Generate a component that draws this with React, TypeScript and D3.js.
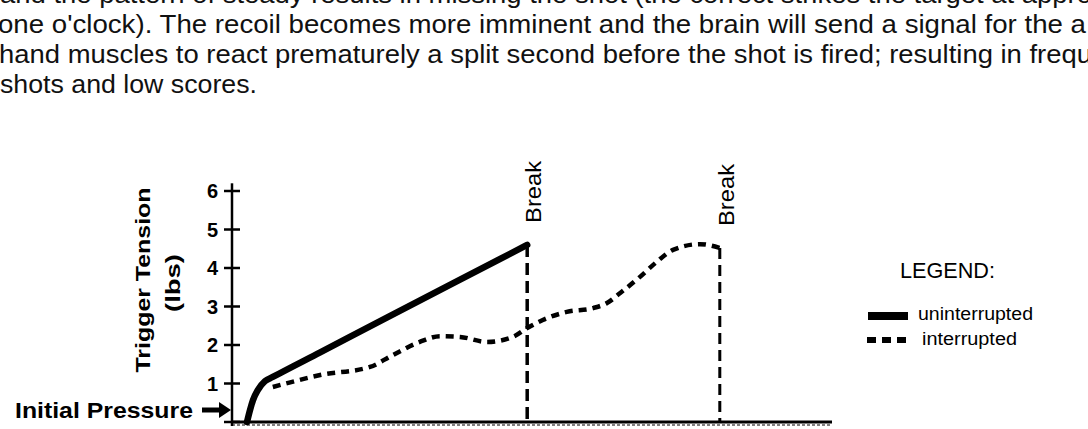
import * as d3 from "d3";

// paragraph above the figure (partly cut by the page)
const paragraphLines = [
  "and the pattern of steady results in missing the shot (the correct strikes the target at appro",
  "one o'clock). The recoil becomes more imminent and the brain will send a signal for the a",
  "hand muscles to react prematurely a split second before the shot is fired; resulting in frequ",
  "shots and low scores.",
];
const paragraphWidths = [1092, 1088, 1093, 257];

// y axis
const tensionTicks = [0, 1, 2, 3, 4, 5, 6];

// uninterrupted pull (solid)
const uninterruptedTime = [2.5, 3.0, 3.5, 4.3, 5.5, 6.8, 14.7, 25.8, 36.8, 49.2];
const uninterruptedTension = [0, 0.31, 0.57, 0.83, 1.06, 1.17, 1.81, 2.71, 3.6, 4.6];

// interrupted pull (dashed)
const interruptedTime = [
  6.8, 9.2, 14.7, 23.0, 26.8, 31.3, 34.7, 38.0, 42.5, 46.8, 49.2, 51.8, 55.8,
  60.2, 62.5, 64.7, 68.0, 70.8, 73.5, 78.0, 81.3,
];
const interruptedTension = [
  0.91, 1.01, 1.22, 1.43, 1.74, 2.08, 2.23, 2.21, 2.08, 2.21, 2.44, 2.65, 2.86,
  2.96, 3.09, 3.35, 3.77, 4.16, 4.47, 4.62, 4.52,
];

const legendLabels = ["uninterrupted", "interrupted"];

const W = 1088;
const H = 429;

export default function App() {
  const x = d3.scaleLinear().domain([0, 100]).range([232, 832]);
  const y = d3.scaleLinear().domain([0, 6]).range([422, 191]);

  const line = d3
    .line<[number, number]>()
    .x((d) => x(d[0]))
    .y((d) => y(d[1]))
    .curve(d3.curveMonotoneX);

  const solid = uninterruptedTime.map((t, i) => [t, uninterruptedTension[i]] as [number, number]);
  const dashed = interruptedTime.map((t, i) => [t, interruptedTension[i]] as [number, number]);

  // break markers sit at the end of each series
  const breaks = [
    { t: uninterruptedTime[uninterruptedTime.length - 1], v: uninterruptedTension[uninterruptedTension.length - 1], dash: "12,6", w: 3.5 },
    { t: interruptedTime[interruptedTime.length - 1], v: interruptedTension[interruptedTension.length - 1], dash: "11,6", w: 3 },
  ];

  const sans = "'Liberation Sans', Arial, Helvetica, sans-serif";

  return (
    <svg
      width={W}
      height={H}
      style={{ position: "absolute", left: 0, top: 0, display: "block", background: "#fff" }}
      fontFamily={sans}
    >
      {/* paragraph */}
      {paragraphLines.map((t, i) => (
        <text
          key={i}
          x={i === 1 ? -2 : i === 2 ? -1 : 0}
          y={3 + i * 30}
          fontSize={25}
          fill="#111"
          textLength={paragraphWidths[i]}
          lengthAdjust="spacingAndGlyphs"
        >
          {t}
        </text>
      ))}

      {/* y axis */}
      <line x1={x(0)} x2={x(0)} y1={y(6.2)} y2={y(0) + 4} stroke="#000" strokeWidth={2.5} />
      {tensionTicks.map((v) => (
        <g key={v}>
          <line x1={x(0) - 8} x2={x(0) + 8} y1={y(v)} y2={y(v)} stroke="#000" strokeWidth={2.5} />
          <text
            x={218}
            y={v === 0 ? y(v) + 17 : y(v)}
            dy="0.36em"
            textAnchor="end"
            fontSize={20}
            fontWeight="bold"
          >
            {v}
          </text>
        </g>
      ))}

      {/* x axis */}
      <line x1={x(0)} x2={x(100)} y1={y(0)} y2={y(0)} stroke="#000" strokeWidth={3} />
      <line x1={x(0)} x2={x(100)} y1={y(0) + 3} y2={y(0) + 3} stroke="#000" strokeWidth={1} strokeDasharray="3,2" />

      {/* axis title */}
      <text
        transform="translate(150,280) rotate(-90)"
        textAnchor="middle"
        fontSize={21}
        fontWeight="bold"
        textLength={185}
        lengthAdjust="spacingAndGlyphs"
      >
        Trigger Tension
      </text>
      <text
        transform="translate(180,283) rotate(-90)"
        textAnchor="middle"
        fontSize={20}
        fontWeight="bold"
        textLength={58}
        lengthAdjust="spacingAndGlyphs"
      >
        (lbs)
      </text>

      {/* initial pressure */}
      <text x={15} y={418} fontSize={22} fontWeight="bold" textLength={178} lengthAdjust="spacingAndGlyphs">
        Initial Pressure
      </text>
      <line x1={202} x2={222} y1={410} y2={410} stroke="#000" strokeWidth={5} />
      <polygon points="219,402 231,410 219,418" fill="#000" />

      {/* break markers */}
      {breaks.map((b, i) => (
        <g key={i}>
          <line
            x1={x(b.t)}
            x2={x(b.t)}
            y1={y(b.v)}
            y2={y(0)}
            stroke="#000"
            strokeWidth={b.w}
            strokeDasharray={b.dash}
          />
          <text
            transform={`translate(${x(b.t) + 14},${y(b.v) - 53}) rotate(-90)`}
            textAnchor="middle"
            fontSize={22}
            textLength={62}
            lengthAdjust="spacingAndGlyphs"
          >
            Break
          </text>
        </g>
      ))}

      {/* series */}
      <path d={line(solid) ?? ""} fill="none" stroke="#000" strokeWidth={6.5} strokeLinecap="round" />
      <path d={line(dashed) ?? ""} fill="none" stroke="#000" strokeWidth={4.5} strokeDasharray="8,6" />

      {/* legend */}
      <text x={900} y={278} fontSize={22} textLength={95} lengthAdjust="spacingAndGlyphs">
        LEGEND:
      </text>
      <rect x={868} y={312} width={40} height={8} fill="#000" />
      <text x={918} y={320} fontSize={18} textLength={115} lengthAdjust="spacingAndGlyphs">
        {legendLabels[0]}
      </text>
      <line x1={867} x2={907} y1={340} y2={340} stroke="#000" strokeWidth={6} strokeDasharray="9,6" />
      <text x={922} y={345} fontSize={18} textLength={95} lengthAdjust="spacingAndGlyphs">
        {legendLabels[1]}
      </text>
    </svg>
  );
}
